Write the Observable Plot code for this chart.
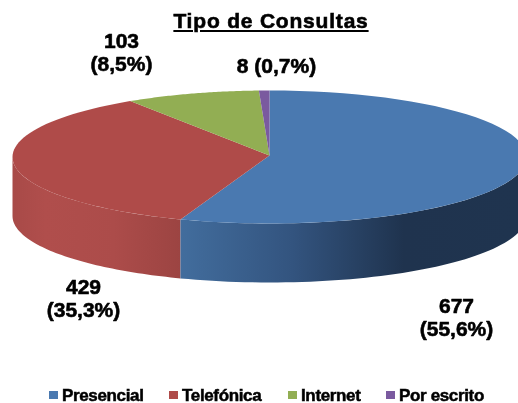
<!DOCTYPE html>
<html><head><meta charset="utf-8">
<script src="https://cdn.jsdelivr.net/npm/d3@7"></script>
<script src="https://cdn.jsdelivr.net/npm/@observablehq/plot@0.6"></script>
<style>
html,body{margin:0;padding:0;background:#fff;width:518px;height:403px;overflow:hidden}
body{font-family:"Liberation Sans",Arial,sans-serif;font-weight:700;color:#000;position:relative;filter:blur(.45px)}
#title{height:26px;width:542px;position:relative;z-index:2;text-align:center;font-size:21px;line-height:24px;padding-top:9px;box-sizing:content-box;margin-bottom:-9px}
#title span{text-decoration:underline;-webkit-text-stroke:.6px #000;letter-spacing:.8px}
svg{display:block}
#legend{height:31px;position:relative;font-size:17px;line-height:18px;-webkit-text-stroke:.5px #000;letter-spacing:-.35px}
#legend div{position:absolute;top:14.5px;white-space:nowrap}
#legend i{display:inline-block;width:9px;height:8px;margin-right:4px;position:relative;top:-1.5px;-webkit-text-stroke:0}
</style></head><body>
<div id="title"><span>Tipo de Consultas</span></div>
<div id="chart"></div>
<div id="legend"></div>
<script>
const categories = ["Presencial", "Telefónica", "Internet", "Por escrito"];
const counts = [677, 429, 103, 8];
const colors = ["#4a79b0", "#af4b49", "#92ae53", "#7a5a9f"];
const labelTexts = ["677\n(55,6%)", "429\n(35,3%)", "103\n(8,5%)", "8 (0,7%)"];
const legendLeft = [49, 169, 288, 386];

// Pie geometry (page pixels)
const top0 = 26, svgH = 346;
const cx = 269, cy = 156.5, rx = 257, ry = 66.5, depth = 59, apexY = 155;
const total = d3.sum(counts);
const ends = d3.cumsum(counts).map(c => c / total * 2 * Math.PI);
const starts = [0, ...ends.slice(0, -1)];
const rim = (t, dz = 0) => ({x: cx + rx * Math.sin(t), y: cy - ry * Math.cos(t) + dz});
const arc = (a, b, dz = 0) => d3.range(0, 61).map(i => rim(a + (b - a) * i / 60, dz));

const tops = categories.flatMap((c, i) =>
  [{x: cx, y: apexY}, ...arc(starts[i], ends[i])].map(p => ({...p, cat: c})));

const wall = (a, b) => [...arc(a, b), ...arc(a, b, depth).reverse()];
const wallBlue = wall(Math.PI / 2, ends[0]);
const wallRed = wall(ends[0], 1.5 * Math.PI);

const labels = [
  {text: labelTexts[0], x: 456, y: 316.5},
  {text: labelTexts[1], x: 83, y: 297.5},
  {text: labelTexts[2], x: 121, y: 51.5},
  {text: labelTexts[3], x: 276, y: 65}
];

const plot = Plot.plot({
  width: 518, height: svgH,
  margin: 0,
  x: {domain: [0, 518], range: [0, 518], axis: null},
  y: {domain: [top0, top0 + svgH], range: [0, svgH], axis: null},
  color: {domain: categories, range: colors},
  style: {background: "transparent", overflow: "hidden"},
  marks: [
    Plot.line(wallRed, {x: "x", y: "y", fill: "url(#redWall)", stroke: "none", curve: "linear"}),
    Plot.line(wallBlue, {x: "x", y: "y", fill: "url(#blueWall)", stroke: "none", curve: "linear"}),
    Plot.line(tops, {x: "x", y: "y", z: "cat", fill: "cat", stroke: "none", curve: "linear"}),
    Plot.text(labels, {x: "x", y: "y", text: "text", fontSize: 21, fontWeight: 700, fill: "#000",
      stroke: "#000", strokeWidth: .6, lineHeight: 1.09, lineAnchor: "middle",
      fontFamily: '"Liberation Sans",Arial,sans-serif'})
  ]
});

const defs = d3.select(plot).insert("defs", ":first-child");
const grad = (id, x1, x2, stops) => {
  const g = defs.append("linearGradient").attr("id", id).attr("gradientUnits", "userSpaceOnUse")
    .attr("x1", x1).attr("x2", x2).attr("y1", 0).attr("y2", 0);
  stops.forEach(([o, c]) => g.append("stop").attr("offset", o).attr("stop-color", c));
};
grad("blueWall", 180, 518, [[0, "#426d9d"], [.33, "#33547f"], [.66, "#1f334e"], [1, "#1f344f"]]);
grad("redWall", 12, 180, [[0, "#a84a48"], [.2, "#b04e4c"], [.6, "#ac4c4a"], [1, "#9c4442"]]);
document.getElementById("chart").append(plot);

const lg = d3.select("#legend");
categories.forEach((c, i) => {
  const d = lg.append("div").style("left", legendLeft[i] + "px");
  d.append("i").style("background", colors[i]);
  d.append("span").text(c);
});
</script>
</body></html>
